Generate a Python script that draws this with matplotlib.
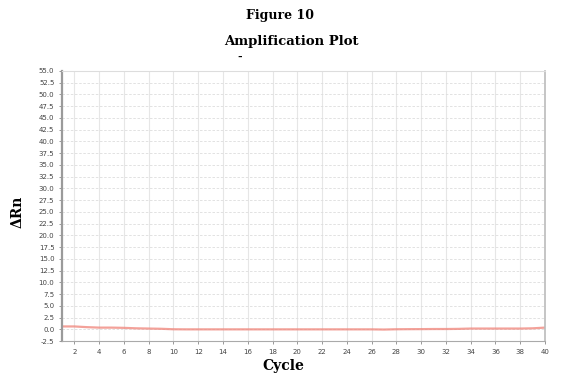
import numpy as np
import matplotlib.pyplot as plt

# data
cycles = list(range(1, 41))
delta_rn = [0.6, 0.6, 0.45, 0.35, 0.35, 0.3, 0.2, 0.15, 0.1, 0.0,
            -0.02, -0.02, -0.02, -0.02, -0.02, -0.02, -0.02, -0.02, -0.02, -0.02,
            -0.02, -0.02, -0.02, -0.02, -0.02, -0.02, -0.06, 0.0, 0.02, 0.03,
            0.05, 0.05, 0.08, 0.15, 0.15, 0.15, 0.15, 0.15, 0.2, 0.35]
x_ticks = list(range(2, 41, 2))
y_ticks = list(np.arange(-2.5, 55.1, 2.5))

fig = plt.figure(figsize=(5.65, 3.82), dpi=100)
ax = fig.add_axes([62 / 565, 1 - 341 / 382, (545 - 62) / 565, (341 - 71) / 382])

ax.plot(cycles, delta_rn, color="#f08a80", lw=1.6, alpha=0.8)

ax.set_xlim(1, 40)
ax.set_ylim(-2.5, 55)
ax.set_xticks(x_ticks)
ax.set_yticks(y_ticks)
ax.set_yticklabels([f"{v:.1f}" for v in y_ticks])
ax.tick_params(labelsize=5, labelcolor="#444444", colors="#888888", length=2, width=0.6)

ax.grid(axis="x", color="#e6e6e6", lw=0.8, ls="-")
ax.grid(axis="y", color="#dddddd", lw=0.6, ls=(0, (3, 2)))
ax.set_axisbelow(True)

ax.spines["left"].set_color("#9a9a9a")
ax.spines["left"].set_linewidth(1.6)
ax.spines["bottom"].set_color("#aaaaaa")
ax.spines["right"].set_color("#bbbbbb")
ax.spines["right"].set_linewidth(1.2)
ax.spines["top"].set_color("#dddddd")

serif = ["DejaVu Serif"]
fig.text(280 / 565, 1 - 16 / 382, "Figure 10", ha="center", va="center",
         fontsize=9, fontweight="bold", family=serif)
fig.text(291 / 565, 1 - 42 / 382, "Amplification Plot", ha="center", va="center",
         fontsize=9.5, fontweight="bold", family=serif)
fig.text(240 / 565, 1 - 57 / 382, "-", ha="center", va="center",
         fontsize=8, fontweight="bold", family=serif)
fig.text(283 / 565, 1 - 366 / 382, "Cycle", ha="center", va="center",
         fontsize=10, fontweight="bold", family=serif)
fig.text(18 / 565, 1 - 212 / 382, "ΔRn", ha="center", va="center", rotation=90,
         fontsize=10, fontweight="bold", family=serif)

fig.savefig("out.png", dpi=100)
